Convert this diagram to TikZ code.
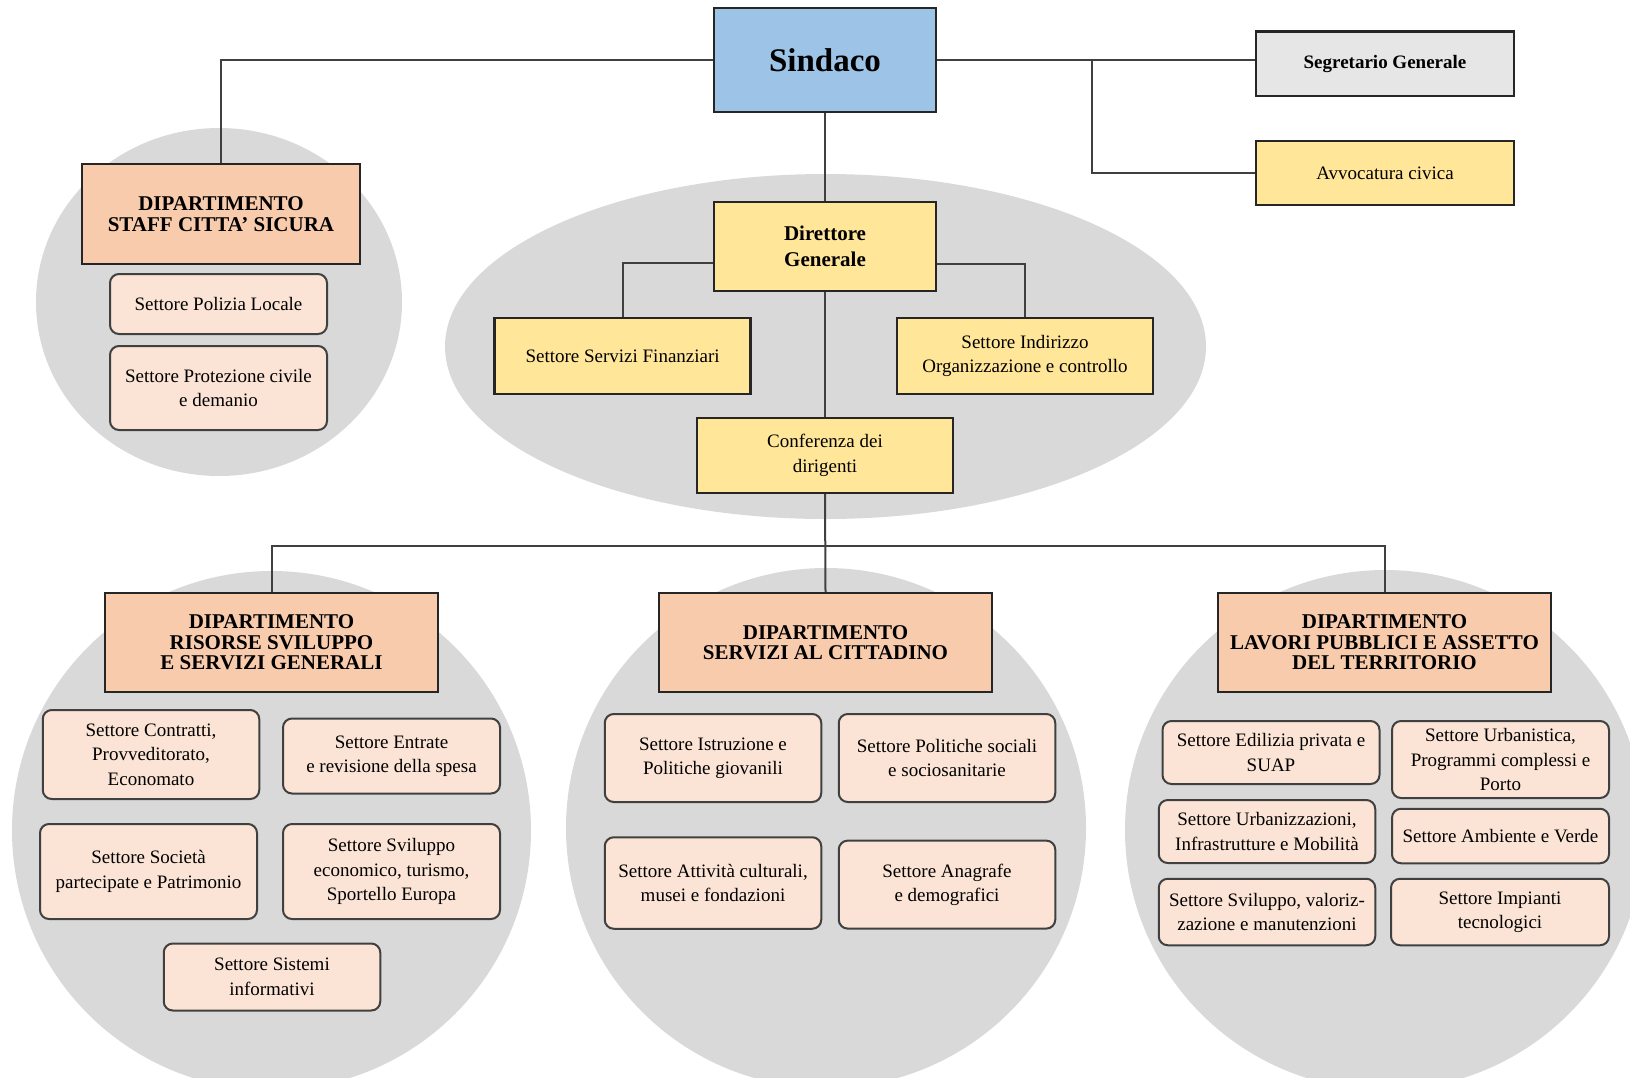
\documentclass[tikz,border=0pt]{standalone}
\usepackage{fontspec}
\setmainfont{Liberation Serif}
\definecolor{sindblue}{HTML}{9DC3E6}
\definecolor{deptfill}{HTML}{F8CBAD}
\definecolor{subfill}{HTML}{FBE4D5}
\definecolor{yelfill}{HTML}{FFE699}
\definecolor{segfill}{HTML}{E7E6E6}
\definecolor{circgray}{HTML}{D9D9D9}
\definecolor{linegray}{HTML}{404040}
\definecolor{bordk}{HTML}{262626}
\tikzset{
  sqbox/.style={draw=bordk, line width=2.4pt, inner sep=2pt, align=center,
    font=\fontsize{19}{24.5}\selectfont},
  sindbox/.style={sqbox, fill=sindblue, font=\fontsize{33}{36}\selectfont\bfseries},
  deptbox/.style={sqbox, fill=deptfill, font=\fontsize{21}{20.6}\selectfont\bfseries},
  yelbox/.style={sqbox, fill=yelfill},
  dirbox/.style={sqbox, fill=yelfill, font=\fontsize{21}{25.5}\selectfont\bfseries},
  segbox/.style={sqbox, fill=segfill, font=\fontsize{19}{24.5}\selectfont\bfseries},
  subbox/.style={draw=linegray, line width=2pt, rounded corners=9pt, fill=subfill,
    inner sep=2pt, align=center, font=\fontsize{19}{24.5}\selectfont},
  conn/.style={draw=linegray, line width=2pt},
  blob/.style={fill=circgray, draw=none}
}
\begin{document}
\begin{tikzpicture}[x=1pt,y=-1pt]
\useasboundingbox (0,0) rectangle (1630,1077);
\clip (0,0) rectangle (1630,1077);
% background blobs
\fill[blob] (219,302) ellipse [x radius=183, y radius=174];
\fill[blob] (825.5,346.5) ellipse [x radius=380.5, y radius=172.5];
\fill[blob] (271.5,830.5) circle [radius=259.5];
\fill[blob] (826,828) circle [radius=260];
\fill[blob] (1385,830) circle [radius=260];

% top level
\node[sindbox, minimum width=222, minimum height=104] (sind) at (825,60) {Sindaco};
\node[segbox, minimum width=258.5, minimum height=64.6] (seg) at (1385,63.7) {Segretario Generale};
\node[yelbox, minimum width=258.5, minimum height=64.5] (avv) at (1385,173) {Avvocatura civica};

% staff
\node[deptbox, minimum width=278, minimum height=100] (staff) at (221,214) {DIPARTIMENTO\\STAFF CITTA' SICURA};
\node[subbox, minimum width=217, minimum height=60] (pol) at (218.5,304) {Settore Polizia Locale};
\node[subbox, minimum width=217, minimum height=84] (prot) at (218.5,388) {Settore Protezione civile\\e demanio};

% direzione
\node[dirbox, minimum width=222, minimum height=89] (dir) at (825,246.5) {Direttore\\Generale};
\node[yelbox, minimum width=256, minimum height=76] (fin) at (622.6,356) {Settore Servizi Finanziari};
\node[yelbox, minimum width=256, minimum height=76] (ind) at (1025,356) {Settore Indirizzo\\Organizzazione e controllo};
\node[yelbox, minimum width=256, minimum height=75] (conf) at (825,455.5) {Conferenza dei\\dirigenti};

% departments
\node[deptbox, minimum width=333, minimum height=99] (d1) at (271.5,642.5) {DIPARTIMENTO\\RISORSE SVILUPPO\\E SERVIZI GENERALI};
\node[deptbox, minimum width=333, minimum height=99] (d2) at (825.5,642.5) {DIPARTIMENTO\\SERVIZI AL CITTADINO};
\node[deptbox, minimum width=333, minimum height=99] (d3) at (1384.5,642.5) {DIPARTIMENTO\\LAVORI PUBBLICI E ASSETTO\\DEL TERRITORIO};

% left dept sectors
\node[subbox, minimum width=216.5, minimum height=89] (contr) at (151,754.5) {Settore Contratti,\\Provveditorato,\\Economato};
\node[subbox, minimum width=217, minimum height=75] (entr) at (391.5,756) {Settore Entrate\\e revisione della spesa};
\node[subbox, minimum width=217, minimum height=95] (soc) at (148.5,871.5) {Settore Società\\partecipate e Patrimonio};
\node[subbox, minimum width=217, minimum height=95] (svec) at (391.5,871.5) {Settore Sviluppo\\economico, turismo,\\Sportello Europa};
\node[subbox, minimum width=216.5, minimum height=67] (sist) at (272,977) {Settore Sistemi\\informativi};

% center dept sectors
\node[subbox, minimum width=216.5, minimum height=88] (istr) at (713,758) {Settore Istruzione e\\Politiche giovanili};
\node[subbox, minimum width=216.5, minimum height=88] (polsoc) at (947,758) {Settore Politiche sociali\\e sociosanitarie};
\node[subbox, minimum width=216.5, minimum height=91.5] (att) at (713,883) {Settore Attività culturali,\\musei e fondazioni};
\node[subbox, minimum width=216.5, minimum height=88] (anag) at (947,884.6) {Settore Anagrafe\\e demografici};

% right dept sectors
\node[subbox, minimum width=217, minimum height=63] (edil) at (1271,752.5) {Settore Edilizia privata e\\SUAP};
\node[subbox, minimum width=217, minimum height=77] (urb) at (1500.5,759.5) {Settore Urbanistica,\\Programmi complessi e\\Porto};
\node[subbox, minimum width=216.5, minimum height=63] (urbz) at (1267,831.5) {Settore Urbanizzazioni,\\Infrastrutture e Mobilità};
\node[subbox, minimum width=217, minimum height=54.5] (amb) at (1500.5,836) {Settore Ambiente e Verde};
\node[subbox, minimum width=216.5, minimum height=66.5] (svval) at (1267,912) {Settore Sviluppo, valoriz-\\zazione e manutenzioni};
\node[subbox, minimum width=218, minimum height=66.5] (imp) at (1500,912) {Settore Impianti\\tecnologici};

% connectors
\coordinate (br) at (1092,60);
\coordinate (bus) at (825.5,546);
\draw[conn] (sind.west) -| (staff.north);
\draw[conn] (sind.east) -- (sind.east -| seg.west);
\draw[conn] (br) |- (avv.west);
\draw[conn] (sind.south) -- (dir.north);
\draw[conn] (dir.south) -- (conf.north);
\draw[conn] (dir.west |- 0,263) -| (fin.north);
\draw[conn] (dir.east |- 0,264) -| (ind.north);
\draw[conn] (conf.south) -- (d2.north);
\draw[conn] (d1.north) |- (bus) -| (d3.north);
\end{tikzpicture}
\end{document}
